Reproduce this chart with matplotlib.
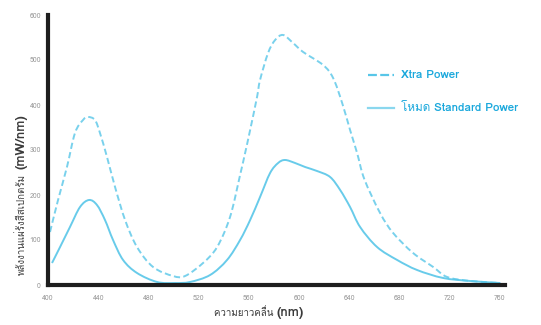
import matplotlib
matplotlib.use("Agg")
import matplotlib.pyplot as plt
import numpy as np
from matplotlib import font_manager, ft2font
from matplotlib.path import Path
from matplotlib.patches import PathPatch

# wavelength (nm) and spectral power
xtra_nm = [401.6, 408.0, 415.1, 421.5, 427.9, 431.9, 437.4, 441.4, 447.0, 453.4,
           461.4, 470.9, 483.7, 499.6, 509.2, 523.5, 534.7, 545.0, 553.0, 557.0,
           561.0, 566.5, 568.9, 575.3, 580.9, 587.2, 595.2, 603.2, 619.1, 627.1,
           634.3, 640.6, 646.2, 652.0, 664.5, 674.9, 690.8, 706.8, 717.9, 736.3, 760.2]
xtra_pw = [117.8, 188.9, 262.2, 337.8, 366.7, 373.3, 366.7, 337.8, 284.4, 217.8,
           144.4, 84.4, 40.0, 20.0, 20.0, 48.9, 84.4, 151.1, 244.4, 293.3,
           344.4, 417.8, 455.6, 515.6, 544.4, 555.6, 537.8, 517.8, 488.9, 460.0,
           404.4, 344.4, 293.3, 235.0, 160.0, 115.6, 71.1, 40.0, 17.8, 8.9, 4.4]

std_nm = [403.2, 409.6, 417.5, 425.5, 432.7, 439.0, 445.4, 451.8, 459.8, 470.9,
          486.9, 501.2, 513.1, 529.1, 542.6, 553.0, 561.0, 568.9, 576.9, 583.3,
          588.8, 596.8, 604.8, 614.3, 624.7, 632.7, 640.6, 648.6, 662.1, 678.1,
          694.0, 714.7, 736.3, 760.2]
std_pw = [48.9, 84.4, 128.9, 173.3, 188.9, 177.8, 144.4, 100.0, 55.6, 26.7,
          6.7, 4.4, 6.7, 22.2, 55.6, 100.0, 144.4, 195.6, 248.9, 271.1,
          277.8, 271.1, 262.2, 253.3, 240.0, 211.1, 173.3, 128.9, 84.4, 55.6,
          33.3, 15.6, 8.9, 4.4]

x_ticks = [400, 440, 480, 520, 560, 600, 640, 680, 720, 760]
y_ticks = [0, 100, 200, 300, 400, 500, 600]

# find a font that can draw Thai
thai_font = None
for f in font_manager.fontManager.ttflist:
    try:
        if ft2font.FT2Font(f.fname).get_char_index(0x0E04):
            thai_font = f.name
            break
    except Exception:
        pass
fams = ([thai_font] if thai_font else []) + ["Liberation Sans", "DejaVu Sans"]
plt.rcParams["font.family"] = fams

line_c = "#58c6e8"
text_c = "#1aa8dc"
label_c = "#3a3a3a"


def smooth_path(x, y):
    # catmull-rom curve through the points, drawn as cubic bezier segments
    p = np.column_stack([x, y])
    p = np.vstack([p[0], p, p[-1]])
    verts = [p[1]]
    codes = [Path.MOVETO]
    for i in range(1, len(p) - 2):
        c1 = p[i] + (p[i + 1] - p[i - 1]) / 6
        c2 = p[i + 1] - (p[i + 2] - p[i]) / 6
        verts += [c1, c2, p[i + 1]]
        codes += [Path.CURVE4] * 3
    return Path(verts, codes)


fig = plt.figure(figsize=(5.41, 3.25), dpi=100)
ax = fig.add_axes([48 / 541, 40 / 325, 457 / 541, 270 / 325])

ax.add_patch(PathPatch(smooth_path(xtra_nm, xtra_pw), fill=False, ec=line_c,
                       lw=1.4, ls=(0, (3.2, 1.7)), alpha=0.8))
ax.add_patch(PathPatch(smooth_path(std_nm, std_pw), fill=False, ec=line_c,
                       lw=1.4, alpha=0.9))

ax.set_xlim(400, 764)
ax.set_ylim(0, 600)
ax.set_xticks(x_ticks)
ax.set_yticks(y_ticks)
ax.tick_params(axis="x", length=0, labelsize=5, labelcolor="#9a9a9a", pad=7)
ax.tick_params(axis="y", length=0, labelsize=5, labelcolor="#9a9a9a", pad=5)
for s in ["top", "right"]:
    ax.spines[s].set_visible(False)
for s in ["left", "bottom"]:
    ax.spines[s].set_linewidth(3)
    ax.spines[s].set_color("#1e1e1e")

# legend drawn by hand, like the reference
ax.plot([0.700, 0.757], [0.777, 0.777], transform=ax.transAxes, color=line_c,
        lw=1.6, dashes=(4, 1.5))
ax.plot([0.700, 0.757], [0.657, 0.657], transform=ax.transAxes, color=line_c,
        lw=1.6, alpha=0.7)
ax.text(0.772, 0.777, "Xtra Power", transform=ax.transAxes, color=text_c,
        fontsize=8.4, fontweight="bold", va="center")
t = ax.text(0.772, 0.657, "โหมด ", transform=ax.transAxes, color=text_c,
            fontsize=8.4, va="center")
ax.annotate("Standard Power", xy=(1, 0.5), xycoords=t, color=text_c,
            fontsize=8.4, fontweight="bold", va="center", ha="left")

# axis labels with bold units
fig.text(0.512, 0.037, "ความยาวคลื่น ", color=label_c, fontsize=7,
         ha="right", va="center")
fig.text(0.512, 0.037, "(nm)", color=label_c, fontsize=9.5,
         fontweight="bold", ha="left", va="center")
yl = fig.text(0.04, 0.155, "พลังงานแผ่รังสีสเปกตรัม", color=label_c,
              fontsize=7, rotation=90, ha="center", va="bottom")
ax.annotate("(mW/nm)", xy=(0.5, 1), xycoords=yl, xytext=(0, 3),
            textcoords="offset points", color=label_c, fontsize=9.5,
            fontweight="bold", rotation=90, ha="center", va="bottom")

fig.savefig("out.png", dpi=100)
